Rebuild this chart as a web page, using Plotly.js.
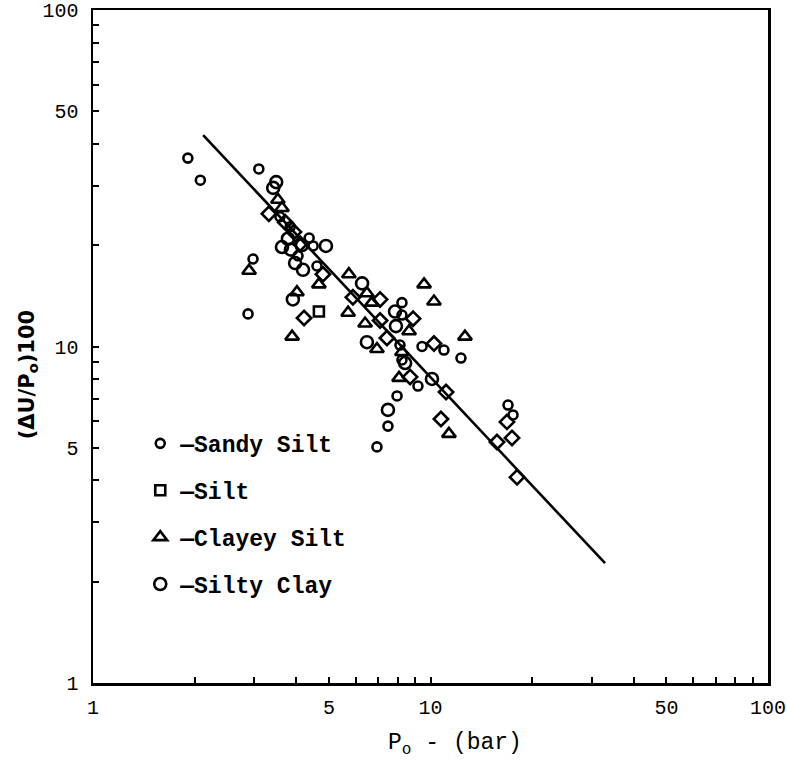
<!DOCTYPE html>
<html>
<head>
<meta charset="utf-8">
<script src="https://cdn.plot.ly/plotly-3.0.1.min.js"></script>
<style>html,body{margin:0;padding:0;background:#fff;}#chart{width:787px;height:763px;}</style>
</head>
<body>
<div id="chart"></div>
<script>
// Sandy Silt (small circles)
var sandyX = [1.91, 2.08, 3.10, 2.98, 2.88, 4.37, 4.49, 8.23, 8.23, 9.44, 10.96, 12.31, 9.18, 7.96, 7.48, 6.94, 16.97, 17.56, 8.12, 8.23, 4.05, 4.61, 3.58, 3.84];
var sandyY = [36.3, 31.2, 33.7, 18.2, 12.5, 21.0, 19.9, 13.5, 12.4, 10.0, 9.76, 9.24, 7.63, 7.13, 5.80, 5.03, 6.70, 6.26, 10.1, 9.12, 18.6, 17.35, 24.3, 22.7];
// Silt (squares)
var siltX = [4.67];
var siltY = [12.7];
// Silt points drawn as rotated squares
var siltDiamondX = [3.32, 4.22, 4.11, 4.80, 7.09, 8.88, 7.43, 10.24, 8.70, 10.74, 16.85, 17.44, 15.74, 18.05, 11.12, 5.89, 7.09, 3.71, 3.94];
var siltDiamondY = [24.8, 12.15, 20.2, 16.4, 13.8, 12.1, 10.6, 10.2, 8.12, 6.09, 5.97, 5.35, 5.20, 4.09, 7.32, 14.0, 11.95, 23.4, 21.9];
// Clayey Silt (triangles)
var clayeyX = [3.53, 3.63, 2.90, 4.02, 4.67, 5.73, 6.48, 3.89, 5.70, 6.40, 9.57, 10.24, 8.64, 6.94, 12.65, 8.23, 8.07, 11.34, 6.71];
var clayeyY = [27.3, 25.8, 16.8, 14.5, 15.3, 16.4, 14.4, 10.7, 12.6, 11.7, 15.3, 13.6, 11.1, 9.83, 10.7, 9.63, 8.07, 5.50, 13.5];
// Silty Clay (larger circles)
var siltyClayX = [3.49, 3.42, 3.78, 3.63, 3.86, 4.16, 4.19, 4.90, 6.27, 3.91, 7.85, 7.90, 6.48, 8.41, 10.10, 7.48, 3.97];
var siltyClayY = [30.8, 29.6, 20.9, 19.75, 19.4, 20.0, 16.9, 19.9, 15.4, 13.8, 12.7, 11.5, 10.3, 8.93, 8.01, 6.48, 17.7];
// Fitted line
var fitX = [2.12, 32.9];
var fitY = [42.5, 2.27];

// Axis ticks
var tickVals = [1,2,3,4,5,6,7,8,9,10,20,30,40,50,60,70,80,90,100];
var labelled = {1:'1',5:'5',10:'10',50:'50',100:'100'};
var tickText = tickVals.map(function(v){ return labelled[v] || ''; });

var xTitle = 'P<sub>o</sub> - (bar)';
var yTitle = '(\u0394U/P<sub>o</sub>)100';

var mono = 'Liberation Mono, Courier New, monospace';
var mk = function(sym, size){ return {symbol: sym, size: size, color: '#000', line: {color: '#000', width: 2.6}}; };

var traces = [
  {x: sandyX, y: sandyY, mode: 'markers', type: 'scatter', name: '\u2014Sandy Silt', legendgroup: 'a', marker: mk('circle-open', 9)},
  {x: siltX, y: siltY, mode: 'markers', type: 'scatter', name: '\u2014Silt', legendgroup: 'b', marker: mk('square-open', 10)},
  {x: siltDiamondX, y: siltDiamondY, mode: 'markers', type: 'scatter', name: 'Silt', legendgroup: 'b', showlegend: false, marker: mk('diamond-open', 11)},
  {x: clayeyX, y: clayeyY, mode: 'markers', type: 'scatter', name: '\u2014Clayey Silt', legendgroup: 'c', marker: mk('triangle-up-open', 12)},
  {x: siltyClayX, y: siltyClayY, mode: 'markers', type: 'scatter', name: '\u2014Silty Clay', legendgroup: 'd', marker: mk('circle-open', 12)},
  {x: fitX, y: fitY, mode: 'lines', type: 'scatter', showlegend: false, line: {color: '#000', width: 2.6}}
];

var axisCommon = {
  type: 'log', tickmode: 'array', tickvals: tickVals, ticktext: tickText,
  ticks: 'inside', ticklen: 6, tickwidth: 2, tickcolor: '#000',
  showline: true, linecolor: '#000', linewidth: 2.5, mirror: true,
  showgrid: false, zeroline: false,
  tickfont: {family: mono, size: 20, color: '#000'}
};

var layout = {
  width: 787, height: 763,
  margin: {l: 93, r: 19, t: 10, b: 80},
  paper_bgcolor: '#fff', plot_bgcolor: '#fff',
  showlegend: true,
  legend: {
    x: 0.07, y: 0.388, xanchor: 'left', yanchor: 'top',
    bgcolor: 'rgba(0,0,0,0)', borderwidth: 0,
    traceorder: 'grouped', tracegroupgap: 14,
    font: {family: mono, size: 23, color: '#000', weight: 'bold'}
  },
  xaxis: Object.assign({}, axisCommon, {range: [0, 2], ticklabelstandoff: 4}),
  yaxis: Object.assign({}, axisCommon, {range: [0, 2], ticklabelstandoff: 8}),
  annotations: [
    {text: xTitle, xref: 'paper', yref: 'paper', x: 0.536, y: -0.092, xanchor: 'center', yanchor: 'middle',
     showarrow: false, font: {family: mono, size: 23, color: '#000'}},
    {text: yTitle, xref: 'paper', yref: 'paper', x: -0.097, y: 0.458, xanchor: 'center', yanchor: 'middle',
     textangle: -90, showarrow: false, font: {family: 'DejaVu Sans, Liberation Sans, sans-serif', size: 21, color: '#000', weight: 'bold'}}
  ]
};

Plotly.newPlot('chart', traces, layout, {staticPlot: true, displayModeBar: false});
</script>
</body>
</html>
